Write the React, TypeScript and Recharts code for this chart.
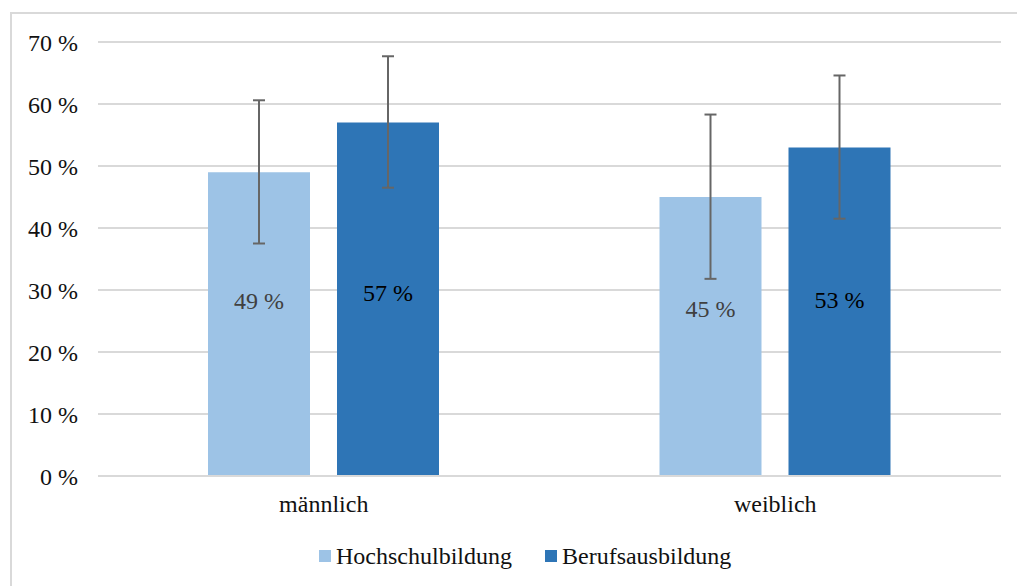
import React from "react";
import {
  BarChart,
  Bar,
  XAxis,
  YAxis,
  CartesianGrid,
  Legend,
  ErrorBar,
  LabelList,
} from "recharts";

const categories = ["männlich", "weiblich"];
const hochschul = [49, 45];
const beruf = [57, 53];
const hochschulErr = [
  [11.5, 11.6],
  [13.2, 13.3],
];
const berufErr = [
  [10.5, 10.7],
  [11.5, 11.6],
];
const yTicks = [0, 10, 20, 30, 40, 50, 60, 70];

const FONT = '"Liberation Serif", "Times New Roman", serif';
const LIGHT = "#9dc3e6";
const DARK = "#2e75b6";

// small vertical nudges, the labels in the original aren't exactly centred
const hochNudge = [-23, -28];
const berufNudge = [-6, -12];

const data = categories.map((name, i) => ({
  name,
  Hochschulbildung: hochschul[i],
  Berufsausbildung: beruf[i],
  hErr: hochschulErr[i],
  bErr: berufErr[i],
}));

function makeLabel(nudge: number[], color: string) {
  return (props: any) => {
    const { x, y, width, height, value, index } = props;
    return (
      <text
        x={x + width / 2}
        y={y + height / 2 + nudge[index]}
        textAnchor="middle"
        dominantBaseline="central"
        fill={color}
        style={{ fontFamily: FONT, fontSize: 24 }}
      >
        {value} %
      </text>
    );
  };
}

function LegendContent() {
  const items = [
    { label: "Hochschulbildung", color: LIGHT },
    { label: "Berufsausbildung", color: DARK },
  ];
  return (
    <div style={{ display: "flex", alignItems: "center", height: 30 }}>
      {items.map((it) => (
        <div
          key={it.label}
          style={{ display: "flex", alignItems: "center", marginRight: 33 }}
        >
          <span
            style={{
              width: 12,
              height: 12,
              background: it.color,
              display: "inline-block",
              marginRight: 5,
            }}
          />
          <span style={{ fontFamily: FONT, fontSize: 24, color: "#111" }}>
            {it.label}
          </span>
        </div>
      ))}
    </div>
  );
}

export default function App() {
  return (
    <div
      style={{
        position: "absolute",
        left: 0,
        top: 0,
        width: 1017,
        height: 586,
        overflow: "hidden",
        background: "#fff",
      }}
    >
      <div
        style={{
          position: "absolute",
          left: 10,
          top: 12,
          width: 1100,
          height: 700,
          border: "2px solid #d9d9d9",
        }}
      />
      <div style={{ position: "absolute", left: 0, top: 0 }}>
        <BarChart
          width={1017}
          height={586}
          data={data}
          margin={{ top: 42, right: 16, left: 0, bottom: 30 }}
          barGap={27}
        >
          <CartesianGrid
            vertical={false}
            stroke="#d9d9d9"
            strokeWidth={2}
          />
          <XAxis
            dataKey="name"
            height={50}
            tickLine={false}
            axisLine={{ stroke: "#d9d9d9", strokeWidth: 2 }}
            tickMargin={13}
            tick={{ fontFamily: FONT, fontSize: 24, fill: "#111" }}
          />
          <YAxis
            width={98}
            domain={[0, 70]}
            ticks={yTicks}
            interval={0}
            tickLine={false}
            axisLine={false}
            tickMargin={14}
            tickFormatter={(v: number) => `${v} %`}
            tick={{ fontFamily: FONT, fontSize: 24, fill: "#111" }}
          />
          <Legend
            verticalAlign="bottom"
            content={() => <LegendContent />}
            wrapperStyle={{ left: 319, top: 541, width: 600, height: 30 }}
          />
          <Bar
            dataKey="Hochschulbildung"
            fill={LIGHT}
            barSize={102}
            isAnimationActive={false}
          >
            <ErrorBar
              dataKey="hErr"
              width={6}
              stroke="#666"
              strokeWidth={2}
              direction="y"
            />
            <LabelList
              dataKey="Hochschulbildung"
              content={makeLabel(hochNudge, "#404040")}
            />
          </Bar>
          <Bar
            dataKey="Berufsausbildung"
            fill={DARK}
            barSize={102}
            isAnimationActive={false}
          >
            <ErrorBar
              dataKey="bErr"
              width={6}
              stroke="#666"
              strokeWidth={2}
              direction="y"
            />
            <LabelList
              dataKey="Berufsausbildung"
              content={makeLabel(berufNudge, "#000")}
            />
          </Bar>
        </BarChart>
      </div>
    </div>
  );
}
